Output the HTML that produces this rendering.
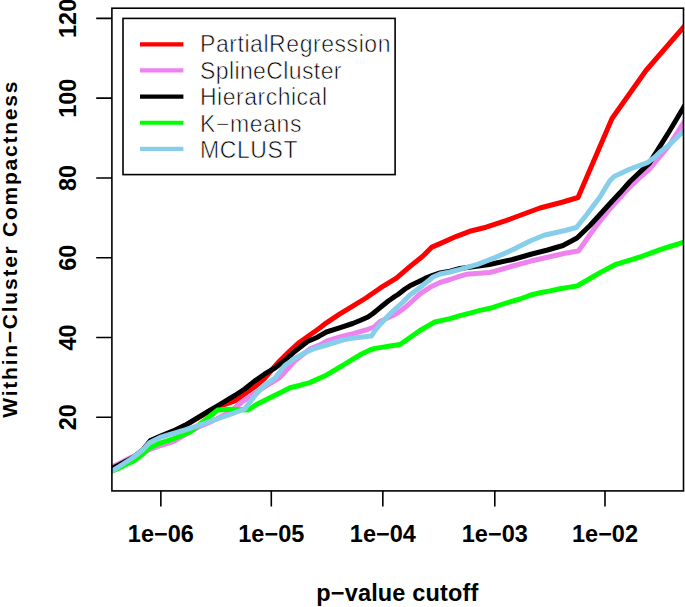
<!DOCTYPE html>
<html><head><meta charset="utf-8"><style>html,body{margin:0;padding:0;background:#fff;overflow:hidden}svg{display:block}</style></head>
<body><svg width="685" height="607" viewBox="0 0 685 607">
<rect width="685" height="607" fill="#fff"/>
<clipPath id="c"><rect x="111.9" y="8.2" width="571.6" height="482.7"/></clipPath>
<g clip-path="url(#c)" fill="none" stroke-width="5" stroke-linejoin="round" stroke-linecap="round">
<polyline stroke="#ff0000" points="108.0,471.0 123.2,463.2 133.1,457.8 143.0,450.2 150.4,441.0 160.0,436.7 173.4,431.2 185.0,425.6 198.2,417.8 211.4,410.0 218.0,406.6 224.9,404.4 234.8,401.0 254.5,387.0 264.4,378.5 277.8,362.9 289.7,351.1 299.6,342.2 309.5,335.2 319.4,328.3 326.4,322.8 339.5,314.2 352.7,306.2 365.9,298.0 380.0,288.2 396.4,278.1 409.5,266.9 422.7,256.3 431.9,247.1 441.2,243.1 456.5,236.3 469.7,231.3 486.1,227.2 505.9,220.6 522.4,214.5 540.0,208.0 563.0,202.0 578.0,197.5 612.0,118.5 646.0,70.5 688.0,22.0"/>
<polyline stroke="#ee82ee" points="108.0,469.0 131.4,457.2 149.5,449.7 160.5,445.5 173.4,441.7 199.0,426.6 210.7,421.9 230.0,412.0 242.0,402.0 256.0,392.5 270.0,383.5 279.8,377.6 294.7,361.1 304.5,353.2 309.5,349.1 319.4,345.1 327.0,341.0 340.0,337.0 353.0,333.7 366.0,330.0 374.0,327.0 380.0,321.5 393.0,315.5 398.0,312.8 403.0,309.0 408.0,305.0 420.0,293.8 430.0,287.3 440.0,282.5 450.0,279.5 460.0,276.1 466.4,274.3 489.4,272.5 495.0,271.2 512.6,266.0 530.0,261.3 547.6,257.2 565.1,253.3 578.4,251.0 585.0,241.8 590.0,234.5 595.0,227.8 600.0,221.2 610.0,208.8 620.0,197.6 630.0,186.8 640.0,177.5 649.4,169.1 669.2,145.3 688.0,116.0"/>
<polyline stroke="#000000" points="108.0,470.5 123.2,462.8 133.1,457.4 143.0,449.8 150.4,440.5 160.0,436.3 173.4,430.9 185.0,425.3 198.2,417.4 211.4,409.5 218.0,405.6 225.0,401.3 234.8,395.5 244.7,389.0 254.5,381.1 264.4,374.2 274.9,368.0 284.8,360.3 294.7,351.5 307.5,341.5 317.4,337.2 326.4,332.0 339.5,327.8 352.7,323.5 360.0,320.5 368.0,317.0 373.0,313.5 378.0,309.3 383.0,305.2 388.0,301.2 393.0,297.7 398.0,294.5 405.0,289.0 410.0,285.8 420.0,280.9 425.0,278.4 432.0,275.6 440.0,273.0 450.0,271.1 460.0,268.5 489.4,264.5 512.6,259.5 530.0,254.5 547.6,250.0 563.0,245.5 577.0,238.0 590.0,225.5 600.0,214.5 610.0,203.5 620.0,192.8 630.0,181.5 649.4,163.1 669.2,131.5 688.0,100.0"/>
<polyline stroke="#00ff00" points="108.0,472.8 120.0,467.6 122.4,466.3 134.7,460.4 143.0,453.8 149.5,448.0 160.0,443.1 173.4,438.8 190.0,432.0 217.7,410.0 230.0,409.3 248.0,410.0 256.4,404.6 269.5,398.0 282.7,391.4 290.0,387.8 300.5,385.2 309.7,382.6 325.0,375.8 342.6,365.5 350.0,360.9 360.0,354.8 370.0,350.0 375.0,348.4 380.0,347.6 390.0,346.0 400.0,344.5 410.0,337.5 420.0,330.5 434.0,322.3 450.0,318.6 460.0,315.7 470.0,313.1 480.0,310.4 490.0,308.3 500.0,305.0 510.0,301.9 520.0,299.0 530.0,295.3 540.0,292.8 550.0,290.9 560.0,288.7 570.0,287.1 577.0,286.0 590.0,278.5 600.0,272.6 615.0,264.7 630.0,260.2 640.0,257.0 650.0,253.3 660.0,249.7 670.0,246.5 680.0,243.3 688.0,241.0"/>
<polyline stroke="#87ceeb" points="108.0,473.5 122.4,464.5 133.1,457.5 143.0,449.7 149.5,442.7 160.0,437.4 185.0,430.0 196.7,426.2 208.4,422.0 220.0,418.0 230.0,414.5 244.7,409.0 254.5,396.0 264.4,385.5 275.0,378.0 284.8,365.5 294.7,358.5 304.5,353.0 314.4,348.5 325.0,345.5 342.6,340.0 350.0,338.6 360.0,337.2 371.5,336.0 375.0,330.5 380.0,324.5 388.0,316.0 393.0,311.0 398.0,306.5 403.0,302.0 410.0,295.0 420.0,287.5 430.0,279.5 432.5,277.3 440.0,274.0 450.0,272.0 460.0,269.3 477.5,264.3 495.0,257.6 512.6,249.8 530.0,241.0 544.0,235.3 565.1,230.5 576.4,227.5 586.8,214.5 595.0,203.5 600.0,197.0 605.0,188.5 610.0,180.5 614.5,176.2 620.0,173.8 630.0,169.0 640.0,165.3 648.0,162.3 655.0,157.0 660.0,152.0 670.0,144.3 680.0,134.5 688.0,127.5"/>
</g>
<rect x="111.9" y="8.2" width="571.6" height="482.7" fill="none" stroke="#000" stroke-width="1.6"/>
<path d="M96.2 417.26H111.9M96.2 337.49H111.9M96.2 257.72H111.9M96.2 177.94H111.9M96.2 98.17H111.9M96.2 18.40H111.9M160.86 490.9V506.5M271.30 490.9V506.5M382.83 490.9V506.5M494.80 490.9V506.5M605.00 490.9V506.5" stroke="#000" stroke-width="1.6" fill="none"/>
<text transform="translate(75.6 417.26) rotate(-90)" text-anchor="middle" font-family="Liberation Sans, sans-serif" font-weight="bold" font-size="23.5">20</text>
<text transform="translate(75.6 337.49) rotate(-90)" text-anchor="middle" font-family="Liberation Sans, sans-serif" font-weight="bold" font-size="23.5">40</text>
<text transform="translate(75.6 257.72) rotate(-90)" text-anchor="middle" font-family="Liberation Sans, sans-serif" font-weight="bold" font-size="23.5">60</text>
<text transform="translate(75.6 177.94) rotate(-90)" text-anchor="middle" font-family="Liberation Sans, sans-serif" font-weight="bold" font-size="23.5">80</text>
<text transform="translate(75.6 98.17) rotate(-90)" text-anchor="middle" font-family="Liberation Sans, sans-serif" font-weight="bold" font-size="23.5">100</text>
<text transform="translate(75.6 18.40) rotate(-90)" text-anchor="middle" font-family="Liberation Sans, sans-serif" font-weight="bold" font-size="23.5">120</text>
<text x="160.86" y="542.3" text-anchor="middle" font-family="Liberation Sans, sans-serif" font-weight="bold" font-size="23.5" textLength="66" lengthAdjust="spacing">1e−06</text>
<text x="271.30" y="542.3" text-anchor="middle" font-family="Liberation Sans, sans-serif" font-weight="bold" font-size="23.5" textLength="66" lengthAdjust="spacing">1e−05</text>
<text x="382.83" y="542.3" text-anchor="middle" font-family="Liberation Sans, sans-serif" font-weight="bold" font-size="23.5" textLength="66" lengthAdjust="spacing">1e−04</text>
<text x="494.80" y="542.3" text-anchor="middle" font-family="Liberation Sans, sans-serif" font-weight="bold" font-size="23.5" textLength="66" lengthAdjust="spacing">1e−03</text>
<text x="605.00" y="542.3" text-anchor="middle" font-family="Liberation Sans, sans-serif" font-weight="bold" font-size="23.5" textLength="66" lengthAdjust="spacing">1e−02</text>
<text x="397.3" y="600.6" text-anchor="middle" font-family="Liberation Sans, sans-serif" font-weight="bold" font-size="23.5" textLength="162" lengthAdjust="spacing">p−value cutoff</text>
<text transform="translate(17.2 249.65) rotate(-90)" text-anchor="middle" font-family="Liberation Sans, sans-serif" font-weight="bold" font-size="21" textLength="336" lengthAdjust="spacing">Within−Cluster Compactness</text>
<rect x="123.0" y="18.4" width="272.1" height="156.2" fill="#fff" stroke="#000" stroke-width="1.6"/>
<line x1="140" x2="183.4" y1="44.30" y2="44.30" stroke="#ff0000" stroke-width="4.2"/>
<text x="200.0" y="52.40" font-family="Liberation Sans, sans-serif" font-size="23" textLength="190.5" lengthAdjust="spacing" stroke="#fff" stroke-width="0.6">PartialRegression</text>
<line x1="140" x2="183.4" y1="70.45" y2="70.45" stroke="#ee82ee" stroke-width="4.2"/>
<text x="200.0" y="78.85" font-family="Liberation Sans, sans-serif" font-size="23" textLength="141.5" lengthAdjust="spacing" stroke="#fff" stroke-width="0.6">SplineCluster</text>
<line x1="140" x2="183.4" y1="96.60" y2="96.60" stroke="#000000" stroke-width="4.2"/>
<text x="200.0" y="105.30" font-family="Liberation Sans, sans-serif" font-size="23" textLength="127.0" lengthAdjust="spacing" stroke="#fff" stroke-width="0.6">Hierarchical</text>
<line x1="140" x2="183.4" y1="122.75" y2="122.75" stroke="#00ff00" stroke-width="4.2"/>
<text x="200.0" y="131.75" font-family="Liberation Sans, sans-serif" font-size="23" textLength="101.5" lengthAdjust="spacing" stroke="#fff" stroke-width="0.6">K−means</text>
<line x1="140" x2="183.4" y1="148.90" y2="148.90" stroke="#87ceeb" stroke-width="4.2"/>
<text x="200.0" y="158.20" font-family="Liberation Sans, sans-serif" font-size="23" textLength="97.5" lengthAdjust="spacing" stroke="#fff" stroke-width="0.6">MCLUST</text>
</svg></body></html>
